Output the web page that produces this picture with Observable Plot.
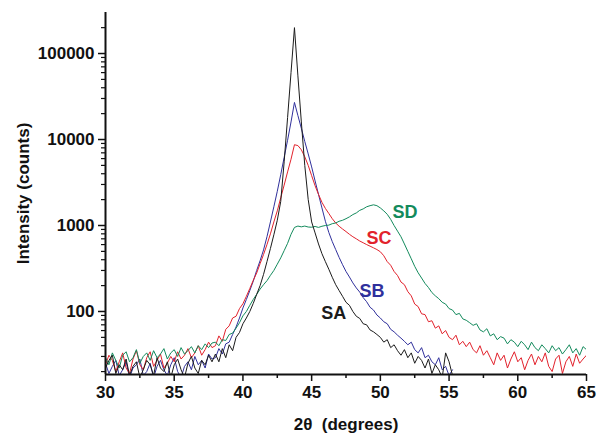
<!DOCTYPE html>
<html><head><meta charset="utf-8">
<script src="https://cdn.jsdelivr.net/npm/d3@7"></script>
<script src="https://cdn.jsdelivr.net/npm/@observablehq/plot@0.6"></script>
<style>body{margin:0;background:#fff}</style>
</head><body><div id="chart"></div>
<script>
// ---- data ----
const seriesNames = ["SA", "SB", "SC", "SD"];
const seriesColors = ["#1b1b1b", "#30309c", "#e2222c", "#138a5c"];
const xStart = 30, xStep = 0.25; // 2θ sampling of the lists below

const SA = [22,27,31,19,24,21,28,18,23,26,17,21,27,24,18,29,22,20,26,17,24,28,21,17,25,30,22,19,27,24,31,26,
  32,26,37,29,41,35,50,57,72,84,100,124,158,200,270,380,540,780,1150,1900,5500,18000,60000,200000,
  55000,16000,5000,2000,1100,820,610,470,380,310,250,205,175,150,128,118,
  100,88,83,72,70,61,58,54,50,44,47,38,41,35,31,36,29,33,25,30,27,22,28,19,24,21,17,33,26,18];

const SB = [25,19,23,27,18,21,26,17,22,24,28,18,20,25,17,23,27,21,18,24,29,20,17,23,26,21,30,24,27,22,32,28,
  29,37,32,42,44,54,66,84,110,138,175,225,300,390,520,740,1100,1650,2500,3900,6200,9800,16000,27000,
  19000,13500,9500,6800,4800,3300,2300,1600,1120,830,650,525,425,350,292,252,
  215,188,168,145,130,112,104,91,84,76,72,62,58,53,49,45,41,44,36,33,38,29,31,26,24,29,21,23,18,21];

const SC = [24,31,27,20,26,33,22,19,28,35,24,21,29,34,23,27,32,22,25,30,26,34,28,31,37,29,33,40,31,36,44,38,
  40,52,45,62,68,84,88,108,123,150,185,230,280,360,460,600,800,1100,1480,2100,2950,4200,5900,8700,
  8500,7600,6300,5000,3800,2900,2300,1860,1580,1380,1200,1070,980,910,850,790,740,700,660,630,600,575,550,525,
  495,445,380,345,292,262,220,205,170,152,122,114,94,92,76,78,64,68,55,60,
  50,47,53,41,45,39,44,36,33,40,31,35,29,24,33,27,31,22,28,34,26,29,21,27,32,24,30,26,33,23,20,28,31,19,26,30,23,32,25,28,31];

const SD = [29,24,33,27,22,31,34,26,29,36,25,30,33,27,35,29,32,37,28,33,36,30,38,32,35,39,33,40,36,42,38,43,
  44,40,47,46,54,56,64,74,89,100,118,138,158,182,205,228,263,300,355,420,510,620,790,950,
  985,965,985,960,955,975,950,980,1000,1010,1050,1070,1120,1150,1200,1260,1340,1400,1500,1560,1650,1700,1740,1700,
  1600,1480,1350,1180,1000,860,740,610,500,410,335,282,245,212,190,166,
  152,141,128,122,108,104,92,95,82,79,74,69,72,61,58,63,52,55,47,51,49,42,47,44,39,45,41,36,44,38,35,41,37,33,40,35,38,32,36,41,33,37,31,39,36];

const seriesValues = [SA, SB, SC, SD];

// annotation positions (data coordinates)
const labelX = [46.6, 49.4, 49.9, 51.8];
const labelY = [95, 171, 707, 1420];

// axes
const xTicks = [30, 35, 40, 45, 50, 55, 60, 65];
const xMinorTicks = [32.5, 37.5, 42.5, 47.5, 52.5, 57.5, 62.5];
const yTicks = [100, 1000, 10000, 100000];
const yMinorTicks = [20,30,40,50,60,70,80,90,200,300,400,500,600,700,800,900,
  2000,3000,4000,5000,6000,7000,8000,9000,20000,30000,40000,50000,60000,70000,80000,90000,200000];
const xDomain = [30, 65];
const yDomain = [18.5, 300000];

// ---- build rows ----
const rows = seriesNames.map((name, k) =>
  seriesValues[k].map((v, i) => ({series: name, x: xStart + i * xStep, y: v})));
const labels = seriesNames.map((name, k) => ({name, x: labelX[k], y: labelY[k], color: seriesColors[k]}));

const drawOrder = [1, 2, 3, 0];
const font = "'Liberation Sans', Arial, Helvetica, sans-serif";
const blank = () => "";

const chart = Plot.plot({
  width: 602, height: 437,
  marginLeft: 105, marginRight: 16, marginTop: 12, marginBottom: 63,
  x: {domain: xDomain},
  y: {type: "log", domain: yDomain},
  style: {fontFamily: font, fontWeight: "bold", background: "#fff", color: "#111"},
  marks: [
    ...drawOrder.map(k => Plot.lineY(rows[k], {x: "x", y: "y", stroke: seriesColors[k], strokeWidth: 1, clip: true})),
    Plot.text(labels, {x: "x", y: "y", text: "name", fill: "color", fontSize: 18, fontWeight: "bold"}),
    Plot.axisX({ticks: xTicks, tickSize: 7, tickPadding: 4, fontSize: 17, tickFormat: d => String(d), strokeWidth: 1.5,
      label: "2θ\u00a0 (degrees)", labelAnchor: "center", labelArrow: "none", labelOffset: 55}),
    Plot.axisX({ticks: xMinorTicks, tickSize: 4, tickFormat: blank, label: null, strokeWidth: 1.5}),
    Plot.axisY({ticks: yTicks, tickSize: 7, tickPadding: 4, fontSize: 17, tickFormat: d => String(d), strokeWidth: 1.5,
      label: "Intensity (counts)", labelAnchor: "center", labelArrow: "none", labelOffset: 89}),
    Plot.axisY({ticks: yMinorTicks, tickSize: 4, tickFormat: blank, label: null, strokeWidth: 1.2}),
    Plot.ruleX([xDomain[0]], {stroke: "#111", strokeWidth: 2}),
    Plot.ruleY([yDomain[0]], {stroke: "#111", strokeWidth: 2})
  ]
});
document.getElementById("chart").appendChild(chart);
</script>
</body></html>
